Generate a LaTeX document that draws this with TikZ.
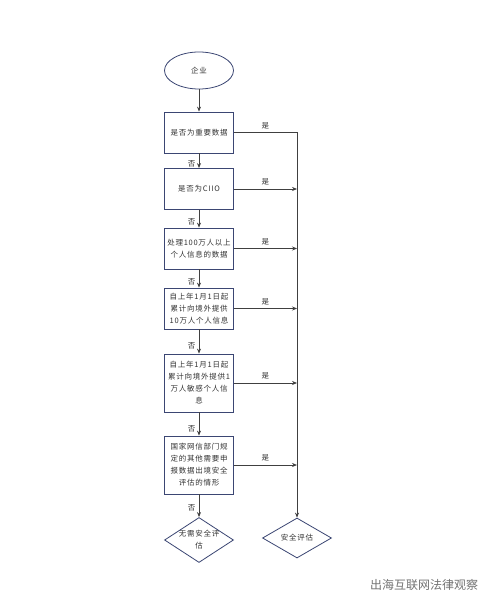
\documentclass[tikz,border=0pt]{standalone}
\usepackage{fontspec}
\newfontfamily\cjk[LetterSpace=10]{Noto Sans CJK SC}
\newfontfamily\cjkmark{Noto Sans CJK SC}
\usetikzlibrary{shapes.geometric, arrows.meta, positioning}

\definecolor{boxline}{HTML}{3B4673}
\definecolor{flowline}{HTML}{404040}

\tikzset{
  stepbox/.style={rectangle, draw=boxline, line width=0.8pt, fill=white,
    minimum width=69pt, minimum height=41pt, text width=66pt, align=center, inner sep=0pt},
  startnode/.style={ellipse, draw=boxline, line width=0.8pt, fill=white,
    minimum width=69pt, minimum height=37pt, inner sep=0pt},
  decision/.style={diamond, draw=boxline, line width=0.8pt, fill=white,
    minimum width=69pt, minimum height=45pt, inner sep=0pt},
  flow/.style={draw=flowline, line width=0.7pt},
  tip/.style={-{Stealth[length=5pt, width=4pt]}}
}

\begin{document}
\begin{tikzpicture}[x=1pt, y=-1pt,
    every node/.style={font=\cjk\fontsize{7.5}{12}\selectfont, text=black!80}]
    \useasboundingbox[fill=white] (0,0) rectangle (494,609);

    % Start
    \node[startnode] (start) at (199,70.5) {企业};

    % Checks
    \node[stepbox] (b1) at (199,132.5) {是否为重要数据};
    \node[stepbox] (b2) at (199,189) {是否为CIIO};
    \node[stepbox] (b3) at (199,248.5) {处理100万人以上\\个人信息的数据};
    \node[stepbox] (b4) at (199,308.5) {自上年1月1日起\\累计向境外提供\\10万人个人信息};
    \node[stepbox, minimum height=58pt] (b5) at (199,383) {自上年1月1日起\\累计向境外提供1\\万人敏感个人信\\息};
    \node[stepbox, minimum height=58pt] (b6) at (199,465) {国家网信部门规\\定的其他需要申\\报数据出境安全\\评估的情形};

    % Results
    \node[decision] (nosa) at (199,540) {};
    \node[align=center, inner sep=0pt] (nosatext) at (nosa) {无需安全评\\估};
    \node[decision, minimum height=40pt] (sa) at (297,538) {};
    \node[inner sep=0pt] (satext) at (sa) {安全评估};

    % No branch
    \draw[flow, tip] (start) -- (b1);
    \draw[flow, tip] (b1) -- node[left, pos=0.7] {否} (b2);
    \draw[flow, tip] (b2) -- node[left, pos=0.7] {否} (b3);
    \draw[flow, tip] (b3) -- node[left, pos=0.7] {否} (b4);
    \draw[flow, tip] (b4) -- node[left, pos=0.7] {否} (b5);
    \draw[flow, tip] (b5) -- node[left, pos=0.7] {否} (b6);
    \draw[flow, tip] (b6) -- node[left, pos=0.6] {否} (nosa);

    % Yes branch
    \draw[flow, tip] (b1.east) -- node[above] {是} (b1.east -| sa.north) -- (sa.north);
    \foreach \b in {b2,b3,b4,b5,b6}
        \draw[flow, tip] (\b.east) -- node[above] {是} (\b.east -| sa.north);

    % Mark
    \node[font=\cjkmark\fontsize{12}{12}\selectfont, text=black!55] (mark) at (424,585) {出海互联网法律观察};
\end{tikzpicture}
\end{document}
